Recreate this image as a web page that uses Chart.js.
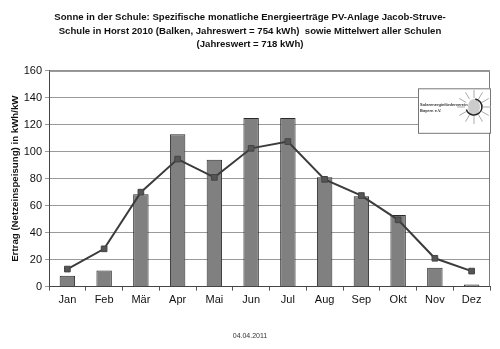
<!DOCTYPE html>
<html>
<head>
<meta charset="utf-8">
<script src="https://cdn.jsdelivr.net/npm/chart.js@4/dist/chart.umd.min.js"></script>
<style>
html,body{margin:0;padding:0;background:#fff;}
#wrap{width:500px;height:349px;position:relative;}
</style>
</head>
<body>
<div id="wrap"><canvas id="c" width="500" height="349"></canvas></div>
<script>
const months = ["Jan","Feb","Mär","Apr","Mai","Jun","Jul","Aug","Sep","Okt","Nov","Dez"];
const schoolYield = [8, 12, 68.5, 113, 94, 125, 125, 81, 67, 53, 14, 1.5];
const averageYield = [13, 28, 70, 94.5, 81, 102.5, 107.5, 79.5, 67.5, 49.5, 21, 11.5];
const yTicks = [0, 20, 40, 60, 80, 100, 120, 140, 160];
const titleLines = [
  "Sonne in der Schule: Spezifische monatliche Energieerträge PV-Anlage Jacob-Struve-",
  "Schule in Horst 2010 (Balken, Jahreswert = 754 kWh)  sowie Mittelwert aller Schulen",
  "(Jahreswert = 718 kWh)"
];
const yTitle = "Ertrag (Netzeinspeisung) in kWh/kW";
const dateText = "04.04.2011";
const logoLines = ["Solarenergieförderverein", "Bayern e.V."];

const FONT = "'Liberation Sans', Arial, sans-serif";

const framePlugin = {
  id: 'frame',
  afterDatasetsDraw(chart) {
    const {ctx, chartArea: a} = chart;
    ctx.save();
    ctx.strokeStyle = '#7a7a7a';
    ctx.lineWidth = 1;
    ctx.beginPath();
    ctx.moveTo(a.left, a.top + 0.5);
    ctx.lineTo(a.right - 0.5, a.top + 0.5);
    ctx.lineTo(a.right - 0.5, a.bottom);
    ctx.stroke();
    // logo box
    const ys = chart.scales.y;
    const bx = a.right - 72, bw = 72;
    const by = ys.getPixelForValue(147), bh = ys.getPixelForValue(114) - by;
    ctx.fillStyle = '#fff';
    ctx.fillRect(bx, by, bw, bh);
    ctx.strokeStyle = '#777';
    ctx.strokeRect(bx + 0.5, by + 0.5, bw, bh);
    // sun
    const cx = bx + bw - 16, cy = by + bh * 0.42;
    ctx.strokeStyle = '#aaa';
    ctx.lineWidth = 1;
    for (let i = 0; i < 12; i++) {
      const ang = (i / 12) * Math.PI * 2;
      ctx.beginPath();
      ctx.moveTo(cx + Math.cos(ang) * 9, cy + Math.sin(ang) * 9);
      ctx.lineTo(cx + Math.cos(ang) * 17, cy + Math.sin(ang) * 17);
      ctx.stroke();
    }
    ctx.fillStyle = '#ccc';
    ctx.beginPath();
    ctx.ellipse(cx, cy, 6, 8, 0, 0, Math.PI * 2);
    ctx.fill();
    ctx.strokeStyle = '#222';
    ctx.lineWidth = 1.5;
    ctx.beginPath();
    ctx.arc(cx, cy, 8, Math.PI * 1.55, Math.PI * 2.9);
    ctx.stroke();
    ctx.fillStyle = '#333';
    ctx.font = "bold 4px " + FONT;
    ctx.textAlign = 'left';
    ctx.textBaseline = 'middle';
    ctx.fillText(logoLines[0], bx + 2, cy - 2);
    ctx.fillText(logoLines[1], bx + 2, cy + 4);
    ctx.restore();
  }
};

new Chart(document.getElementById('c'), {
  data: {
    labels: months,
    datasets: [
      {
        type: 'line',
        label: 'Mittelwert aller Schulen',
        data: averageYield,
        borderColor: '#3c3c3c',
        borderWidth: 2,
        pointStyle: 'rect',
        pointRadius: 4,
        pointBackgroundColor: '#555',
        pointBorderColor: '#444',
        pointBorderWidth: 1,
        tension: 0,
        order: 0
      },
      {
        type: 'bar',
        label: 'Jacob-Struve-Schule',
        data: schoolYield,
        backgroundColor: '#808080',
        borderColor: '#2a2a2a',
        borderWidth: 1,
        barPercentage: 0.42,
        categoryPercentage: 1.0,
        order: 1
      }
    ]
  },
  options: {
    responsive: false,
    animation: false,
    devicePixelRatio: 1,
    layout: { padding: { left: 10, right: 10, top: 0, bottom: 0 } },
    plugins: {
      legend: { display: false },
      tooltip: { enabled: false },
      title: {
        display: true,
        text: titleLines,
        color: '#111',
        font: { family: FONT, size: 9.6, weight: 'bold', lineHeight: 1.45 },
        padding: { top: 10, bottom: 19 }
      },
      subtitle: {
        display: true,
        position: 'bottom',
        text: dateText,
        color: '#333',
        font: { family: FONT, size: 7, lineHeight: 1.2 },
        padding: { top: 15, bottom: 9 }
      }
    },
    scales: {
      x: {
        grid: { display: true, drawOnChartArea: false, drawTicks: true, tickLength: 4, color: '#555', offset: true },
        border: { display: true, color: '#444', width: 1 },
        ticks: { color: '#111', font: { family: FONT, size: 11 }, padding: 3, maxRotation: 0, autoSkip: false },
        afterFit(s) { s.height = 30; }
      },
      y: {
        min: 0, max: 160,
        afterBuildTicks(s) { s.ticks = yTicks.map(v => ({ value: v })); },
        grid: { color: '#9a9a9a', lineWidth: 1, drawTicks: true, tickLength: 4 },
        border: { display: true, color: '#444', width: 1 },
        ticks: { color: '#111', font: { family: FONT, size: 11 }, padding: 3 },
        title: {
          display: true,
          text: yTitle,
          color: '#111',
          font: { family: FONT, size: 9.7, weight: 'bold' },
          padding: { top: 0, bottom: 2 }
        },
        afterFit(s) { s.width = 39; }
      }
    }
  },
  plugins: [framePlugin]
});
</script>
</body>
</html>
